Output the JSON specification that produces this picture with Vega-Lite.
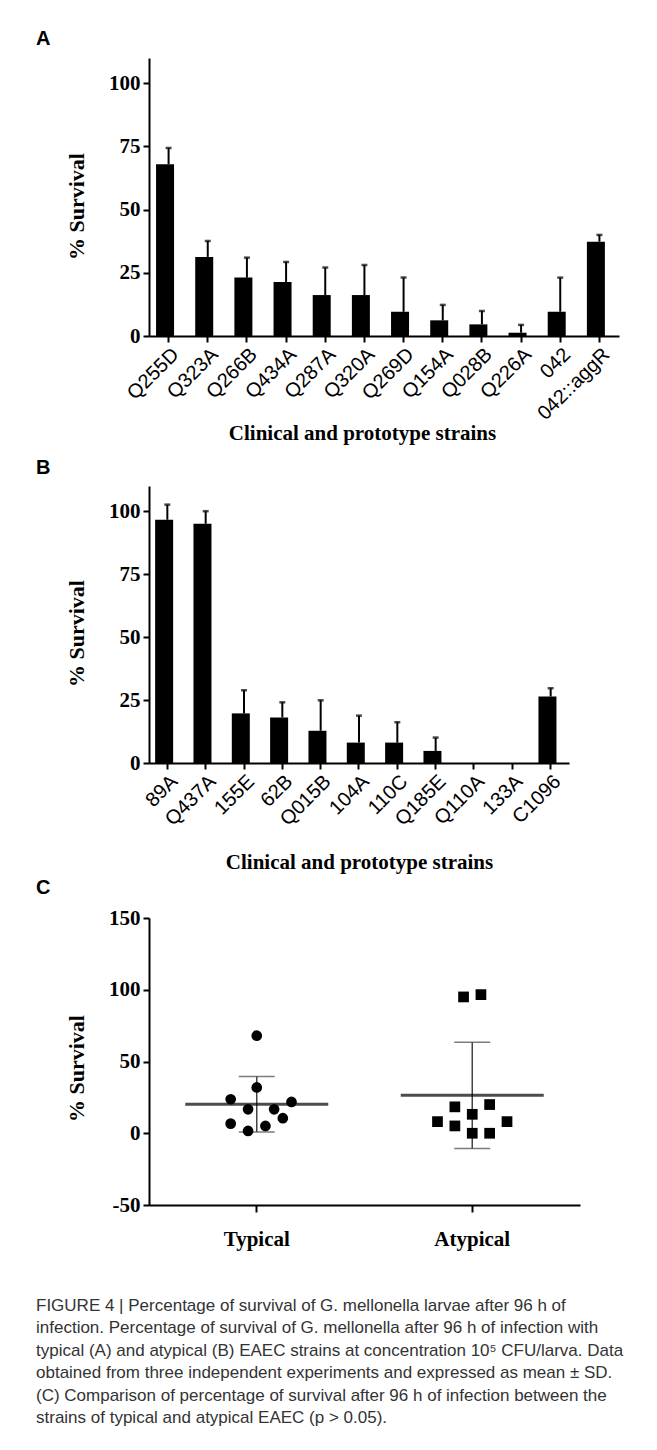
{
  "$schema": "https://vega.github.io/schema/vega-lite/v6.json",
  "background": "white",
  "padding": {"left": 36, "top": 29, "right": 10, "bottom": 20},
  "spacing": 14,
  "title": {
    "text": [
      "FIGURE 4 | Percentage of survival of G. mellonella larvae after 96 h of",
      "infection. Percentage of survival of G. mellonella after 96 h of infection with",
      "typical (A) and atypical (B) EAEC strains at concentration 10⁵ CFU/larva. Data",
      "obtained from three independent experiments and expressed as mean ± SD.",
      "(C) Comparison of percentage of survival after 96 h of infection between the",
      "strains of typical and atypical EAEC (p > 0.05)."
    ],
    "orient": "bottom",
    "anchor": "start",
    "frame": "bounds",
    "font": "Liberation Sans",
    "fontSize": 17,
    "fontWeight": "normal",
    "color": "#333333",
    "lineHeight": 22.4,
    "offset": 49
  },
  "config": {
    "view": {"stroke": null},
    "axis": {
      "domainColor": "black", "domainWidth": 2,
      "tickColor": "black", "tickWidth": 2, "tickSize": 6,
      "labelColor": "black", "titleColor": "black", "grid": false,
      "labelFont": "Liberation Serif", "labelFontWeight": "bold", "labelFontSize": 21,
      "titleFont": "Liberation Serif", "titleFontWeight": "bold", "titleFontSize": 21,
      "labelPadding": 3
    }
  },
  "datasets": {
    "typical": [
      {"strain": "Q255D", "mean": 68.0, "upper": 74.4},
      {"strain": "Q323A", "mean": 31.3, "upper": 37.6},
      {"strain": "Q266B", "mean": 23.1, "upper": 31.0},
      {"strain": "Q434A", "mean": 21.4, "upper": 29.3},
      {"strain": "Q287A", "mean": 16.2, "upper": 27.1},
      {"strain": "Q320A", "mean": 16.2, "upper": 28.1},
      {"strain": "Q269D", "mean": 9.6, "upper": 23.1},
      {"strain": "Q154A", "mean": 6.2, "upper": 12.3},
      {"strain": "Q028B", "mean": 4.6, "upper": 9.9},
      {"strain": "Q226A", "mean": 1.3, "upper": 4.4},
      {"strain": "042", "mean": 9.6, "upper": 23.1},
      {"strain": "042::aggR", "mean": 37.3, "upper": 40.0}
    ],
    "atypical": [
      {"strain": "89A", "mean": 96.6, "upper": 102.6},
      {"strain": "Q437A", "mean": 95.0, "upper": 100.0},
      {"strain": "155E", "mean": 19.7, "upper": 28.9},
      {"strain": "62B", "mean": 18.1, "upper": 24.1},
      {"strain": "Q015B", "mean": 12.8, "upper": 24.9},
      {"strain": "104A", "mean": 8.1, "upper": 18.8},
      {"strain": "110C", "mean": 8.1, "upper": 16.2},
      {"strain": "Q185E", "mean": 4.8, "upper": 10.1},
      {"strain": "Q110A", "mean": 0, "upper": null},
      {"strain": "133A", "mean": 0, "upper": null},
      {"strain": "C1096", "mean": 26.4, "upper": 29.7}
    ],
    "points": [
      {"group": "Typical", "value": 68.0, "slot": 0},
      {"group": "Typical", "value": 31.9, "slot": 0},
      {"group": "Typical", "value": 23.7, "slot": -3},
      {"group": "Typical", "value": 21.8, "slot": 4},
      {"group": "Typical", "value": 16.7, "slot": -1},
      {"group": "Typical", "value": 16.7, "slot": 2},
      {"group": "Typical", "value": 10.5, "slot": 3},
      {"group": "Typical", "value": 6.7, "slot": -3},
      {"group": "Typical", "value": 5.1, "slot": 1},
      {"group": "Typical", "value": 1.6, "slot": -1},
      {"group": "Atypical", "value": 96.6, "slot": 1},
      {"group": "Atypical", "value": 95.0, "slot": -1},
      {"group": "Atypical", "value": 20.0, "slot": 2},
      {"group": "Atypical", "value": 18.4, "slot": -2},
      {"group": "Atypical", "value": 13.2, "slot": 0},
      {"group": "Atypical", "value": 8.1, "slot": -4},
      {"group": "Atypical", "value": 8.1, "slot": 4},
      {"group": "Atypical", "value": 5.1, "slot": -2},
      {"group": "Atypical", "value": 0.0, "slot": 0},
      {"group": "Atypical", "value": 0.0, "slot": 2}
    ],
    "summary": [
      {"group": "Typical", "mean": 20.2, "lo": 0.9, "hi": 39.5},
      {"group": "Atypical", "mean": 26.5, "lo": -10.7, "hi": 63.5}
    ]
  },
  "vconcat": [
    {
      "width": 470,
      "height": 278,
      "title": {"text": "A", "anchor": "start", "frame": "group", "dx": -113, "offset": 9, "font": "Liberation Sans", "fontWeight": "bold", "fontSize": 20, "color": "black"},
      "data": {"name": "typical"},
      "encoding": {
        "x": {
          "field": "strain", "type": "nominal", "sort": null,
          "scale": {"paddingInner": 0.36, "paddingOuter": 0.18},
          "axis": {"labelAngle": -45, "labelFont": "Liberation Sans", "labelFontWeight": "normal", "labelFontSize": 20, "title": "Clinical and prototype strains", "titleX": 213, "labelPadding": 2, "titlePadding": -1}
        },
        "y": {
          "field": "mean", "type": "quantitative",
          "scale": {"domain": [0, 110], "nice": false},
          "axis": {"values": [0, 25, 50, 75, 100], "title": "% Survival", "titlePadding": 20, "titleFontSize": 22, "titleY": 148}
        }
      },
      "layer": [
        {"mark": {"type": "bar", "color": "black"}},
        {"mark": {"type": "rule", "color": "black", "strokeWidth": 2}, "encoding": {"y2": {"field": "upper"}}},
        {"mark": {"type": "tick", "color": "black", "thickness": 2.5, "size": 6}, "encoding": {"y": {"field": "upper", "type": "quantitative", "title": "% Survival"}}}
      ]
    },
    {
      "spacing": 5,
      "vconcat": [
        {
          "width": 420,
          "height": 277,
          "title": {"text": "B", "anchor": "start", "frame": "group", "dx": -113, "offset": 8, "font": "Liberation Sans", "fontWeight": "bold", "fontSize": 20, "color": "black"},
          "data": {"name": "atypical"},
          "encoding": {
            "x": {
              "field": "strain", "type": "nominal", "sort": null,
              "scale": {"paddingInner": 0.363, "paddingOuter": 0.16},
              "axis": {"labelAngle": -45, "labelFont": "Liberation Sans", "labelFontWeight": "normal", "labelFontSize": 20, "title": "Clinical and prototype strains", "labelPadding": 2, "titlePadding": 22}
            },
            "y": {
              "field": "mean", "type": "quantitative",
              "scale": {"domain": [0, 110], "nice": false},
              "axis": {"values": [0, 25, 50, 75, 100], "title": "% Survival", "titlePadding": 20, "titleFontSize": 22, "titleY": 147}
            }
          },
          "layer": [
            {"mark": {"type": "bar", "color": "black"}},
            {"mark": {"type": "rule", "color": "black", "strokeWidth": 2}, "encoding": {"y2": {"field": "upper"}}},
            {"mark": {"type": "tick", "color": "black", "thickness": 2.5, "size": 6}, "encoding": {"y": {"field": "upper", "type": "quantitative", "title": "% Survival"}}}
          ]
        },
        {
          "width": 431,
          "height": 287,
          "title": {"text": "C", "anchor": "start", "frame": "group", "dx": -113, "offset": 9, "font": "Liberation Sans", "fontWeight": "bold", "fontSize": 20, "color": "black"},
          "encoding": {
            "x": {
              "field": "group", "type": "nominal", "sort": ["Typical", "Atypical"],
              "scale": {"paddingInner": 0, "paddingOuter": 0},
              "axis": {"labelAngle": 0, "title": null, "tickSize": 7, "labelPadding": 16}
            }
          },
          "layer": [
            {
              "data": {"name": "summary"},
              "mark": {"type": "rule", "color": "#444444", "strokeWidth": 1.5},
              "encoding": {
                "y": {"field": "lo", "type": "quantitative", "scale": {"domain": [-50, 150], "nice": false}, "axis": {"values": [-50, 0, 50, 100, 150], "title": "% Survival", "titlePadding": 20, "titleFontSize": 22, "titleY": 150, "labelExpr": "'' + datum.value"}},
                "y2": {"field": "hi"}
              }
            },
            {
              "data": {"name": "summary"},
              "mark": {"type": "tick", "color": "#444444", "thickness": 1.5, "size": 36},
              "encoding": {"y": {"field": "lo", "type": "quantitative", "title": "% Survival"}}
            },
            {
              "data": {"name": "summary"},
              "mark": {"type": "tick", "color": "#444444", "thickness": 1.5, "size": 36},
              "encoding": {"y": {"field": "hi", "type": "quantitative", "title": "% Survival"}}
            },
            {
              "data": {"name": "summary"},
              "mark": {"type": "tick", "color": "black", "thickness": 3, "size": 143},
              "encoding": {"y": {"field": "mean", "type": "quantitative", "title": "% Survival"}}
            },
            {
              "data": {"name": "points"},
              "mark": {"type": "point", "filled": true, "color": "black", "opacity": 1, "size": 115},
              "encoding": {
                "xOffset": {"field": "slot", "type": "quantitative", "scale": {"domain": [-12.4, 12.4], "nice": false, "zero": false}},
                "y": {"field": "value", "type": "quantitative", "title": "% Survival"},
                "shape": {"field": "group", "type": "nominal", "scale": {"domain": ["Typical", "Atypical"], "range": ["circle", "square"]}, "legend": null}
              }
            }
          ]
        }
      ]
    }
  ]
}
